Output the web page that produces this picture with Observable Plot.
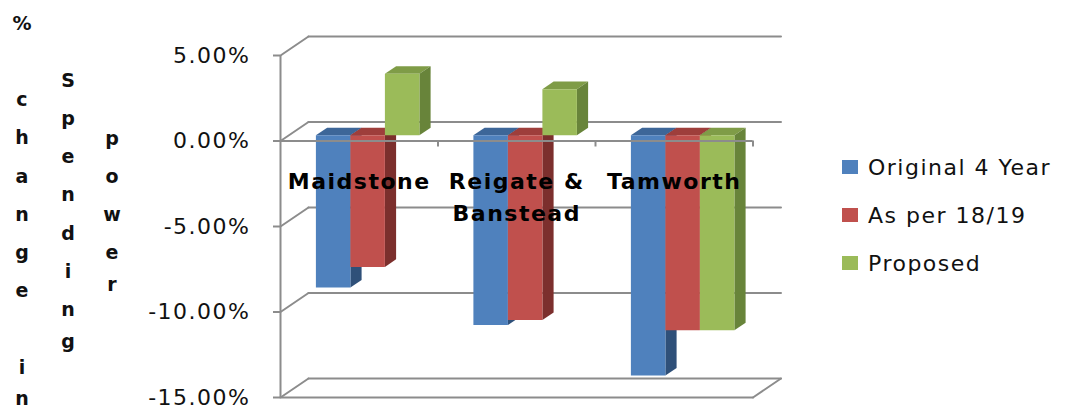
<!DOCTYPE html>
<html>
<head>
<meta charset="utf-8">
<script src="https://cdn.jsdelivr.net/npm/d3@7"></script>
<script src="https://cdn.jsdelivr.net/npm/@observablehq/plot@0.6"></script>
<style>
  html, body { margin: 0; padding: 0; background: #fff; }
  #wrap { position: relative; width: 1065px; height: 412px; overflow: hidden; background: #fff; }
  #chart { position: absolute; left: 0; top: 0; }
  #chart svg text { letter-spacing: 1.5px; }
  .tcol { position: absolute; width: 30px; text-align: center; font-family: "DejaVu Sans", sans-serif;
          font-weight: bold; font-size: 19px; color: #111; }
  .tcol div { height: 38.2px; line-height: 38.2px; }
  .tcol div.last { height: 16px; line-height: 16px; margin-top: 4.5px; }
  #legend { position: absolute; left: 842px; top: 143px; font-family: "DejaVu Sans", sans-serif;
            font-size: 22px; letter-spacing: 1.5px; color: #111; }
  #legend .row { display: flex; align-items: center; height: 48px; white-space: nowrap; }
  #legend .sw { width: 16px; height: 14px; margin-right: 10px; flex: none; }
</style>
</head>
<body>
<div id="wrap">
  <div id="chart"></div>
  <div id="title"></div>
  <div id="legend"></div>
</div>
<script>
// ---- data ----
const categories = ["Maidstone", "Reigate &\nBanstead", "Tamworth"];
const seriesNames = ["Original 4 Year", "As per 18/19", "Proposed"];
const original4Year = [-8.9, -11.1, -14.05];
const asPer1819 = [-7.7, -10.8, -11.4];
const proposed = [3.6, 2.7, -11.4];
const yTicks = [5, 0, -5, -10, -15];
const titleColumns = [["%", "", "c", "h", "a", "n", "g", "e", "", "i", "n"],
                      ["S", "p", "e", "n", "d", "i", "n", "g"],
                      ["p", "o", "w", "e", "r"]];

// ---- style ----
const frontColors = ["#4F81BD", "#C0504D", "#9BBB59"];
const sideColors  = ["#2F5079", "#7C2F2D", "#68843A"];
const topColors   = ["#3D6698", "#9E3E3B", "#7F9C47"];
const gridColor = "#8c8c8c";

// ---- layout (pixels) ----
const W = 1065, H = 412;
const xLeft = 280, xRight = 752.5, yTop = 55, yBottom = 397;
const pxPerX = (xRight - xLeft) / categories.length;
const pxPerY = (yBottom - yTop) / 20;
const BX = 28 / pxPerX, BY = 19 / pxPerY;     // back-wall offset in data units
const F0 = 0.3, F1 = 0.7;                       // bar front / back depth fractions
const barW = 34.5 / pxPerX;
const yMin = -15, yMax = 5;
const nCat = categories.length;

const values = [original4Year, asPer1819, proposed];

// wall & floor lines
const wall = [];
yTicks.forEach((t, k) => {
  wall.push({id: "b" + k, x: BX, y: t + BY}, {id: "b" + k, x: nCat + BX, y: t + BY});
  wall.push({id: "d" + k, x: 0, y: t}, {id: "d" + k, x: BX, y: t + BY});
});
wall.push({id: "ff", x: 0, y: yMin}, {id: "ff", x: nCat, y: yMin});
wall.push({id: "fr", x: nCat, y: yMin}, {id: "fr", x: nCat + BX, y: yMin + BY});

// bar faces (polygons), ordered for correct occlusion
const faces = [];
const DX = (F1 - F0) * BX, DY = (F1 - F0) * BY;
categories.forEach((c, i) => {
  seriesNames.forEach((s, j) => {
    const v = values[j][i];
    const x1 = i + 0.5 - 1.5 * barW + j * barW + F0 * BX, x2 = x1 + barW;
    const yz = F0 * BY, yv = v + F0 * BY;
    const top = Math.max(yz, yv), bot = Math.min(yz, yv);
    const id = i + "-" + j;
    const poly = (name, color, pts) => pts.forEach(([x, y]) => faces.push({id: id + name, x, y, color}));
    poly("t", topColors[j], [[x1, top], [x2, top], [x2 + DX, top + DY], [x1 + DX, top + DY]]);
    poly("s", sideColors[j], [[x2, top], [x2 + DX, top + DY], [x2 + DX, bot + DY], [x2, bot]]);
    poly("f", frontColors[j], [[x1, top], [x2, top], [x2, bot], [x1, bot]]);
  });
});

const tickLen = 6 / pxPerY;

const plot = Plot.plot({
  width: W, height: H,
  marginLeft: xLeft, marginRight: W - xRight, marginTop: yTop, marginBottom: H - yBottom,
  x: {domain: [0, nCat], axis: null},
  y: {domain: [yMin, yMax]},
  style: {fontFamily: "DejaVu Sans, sans-serif", fontSize: "22px", background: "#fff"},
  marks: [
    Plot.line(wall, {x: "x", y: "y", z: "id", stroke: gridColor, strokeWidth: 2}),
    Plot.ruleX([0], {y1: yMin, y2: yMax, stroke: gridColor, strokeWidth: 2}),
    Plot.axisY(yTicks, {tickSize: 7, tickPadding: 23, stroke: gridColor, strokeWidth: 2, fill: "#111",
      tickFormat: d => d.toFixed(2) + "%", fontSize: 22, label: null}),
    Plot.line(faces, {x: "x", y: "y", z: "id", fill: "color", stroke: "none"}),
    Plot.ruleY([0], {x1: 0, x2: nCat, stroke: gridColor, strokeWidth: 2}),
    Plot.ruleX(d3.range(1, nCat + 1), {y1: 0, y2: -tickLen, stroke: gridColor, strokeWidth: 2}),
    Plot.text(categories, {x: (d, i) => i + 0.5, y: 0, text: d => d, lineAnchor: "top", dy: 26,
      fontSize: 22, fontWeight: "bold", fontFamily: "DejaVu Sans, sans-serif", fill: "#000", lineHeight: 1.43})
  ]
});
document.getElementById("chart").appendChild(plot);

// y-axis title (stacked letters)
const colX = [22, 68, 112], colTop = [3.9, 60.9, 118.9];
const title = document.getElementById("title");
titleColumns.forEach((letters, k) => {
  const d = document.createElement("div");
  d.className = "tcol";
  d.style.left = (colX[k] - 15) + "px";
  d.style.top = colTop[k] + "px";
  letters.forEach((ch, n) => {
    const line = document.createElement("div");
    if (n === letters.length - 1) line.className = "last";
    line.textContent = ch || "\u00a0";
    d.appendChild(line);
  });
  title.appendChild(d);
});

// legend
const legend = document.getElementById("legend");
seriesNames.forEach((s, j) => {
  const r = document.createElement("div");
  r.className = "row";
  const sw = document.createElement("span");
  sw.className = "sw";
  sw.style.background = frontColors[j];
  const t = document.createElement("span");
  t.textContent = s;
  r.appendChild(sw); r.appendChild(t);
  legend.appendChild(r);
});
</script>
</body>
</html>
